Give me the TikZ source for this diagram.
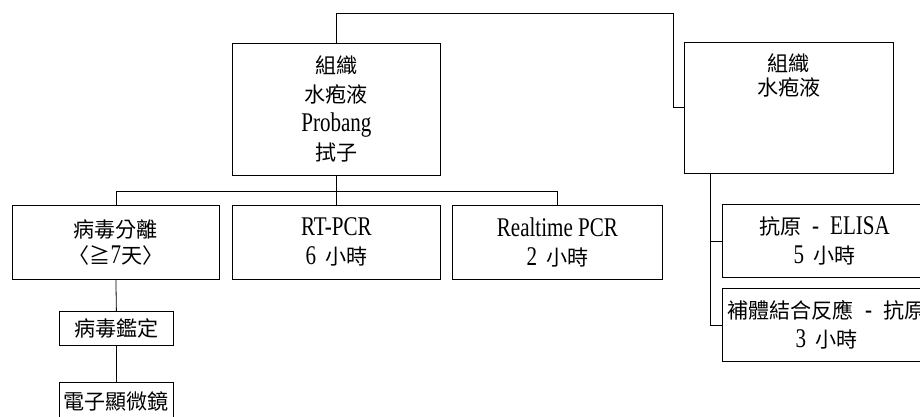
\documentclass[tikz,border=0pt]{standalone}
\usepackage{fontspec}
\setmainfont[FakeStretch=0.78]{Liberation Serif}
\newfontfamily\cjk[Scale=0.78]{Noto Sans CJK TC}
\newcommand\zh[1]{{\cjk #1}}
\newcommand\gap{\hspace{9pt}}
\newcommand\dgap{\hspace{11pt}}
\begin{document}
\begin{tikzpicture}[x=1pt,y=-1pt,
  box/.style={draw, line width=0.8pt, anchor=north west, inner sep=0pt,
    font=\fontsize{27}{29}\selectfont, align=center},
  txt/.style={inner sep=0pt, font=\fontsize{27}{29}\selectfont, align=center},
  link/.style={draw, line width=0.8pt}]
\useasboundingbox (0,0) rectangle (920,417);
\clip (0,0) rectangle (920,417);
% boxes
\node[box, minimum width=208pt, minimum height=132pt] (src) at (232,43)
  {\zh{組織}\\\zh{水疱液}\\Probang\\\zh{拭子}};
\node[box, minimum width=209pt, minimum height=131pt] (srcb) at (684,42) {};
\node[txt, anchor=north] (srcbtxt) at ([yshift=-12pt]srcb.north)
  {\zh{組織}\\[-5pt]\zh{水疱液}};
\node[box, minimum width=207pt, minimum height=74pt] (iso) at (12,205)
  {\zh{病毒分離}\\[-3pt]\zh{〈≧}7\zh{天〉}};
\node[box, minimum width=208pt, minimum height=74pt] (rtpcr) at (232,205)
  {RT-PCR\\6\gap\zh{小時}};
\node[box, minimum width=210pt, minimum height=74pt] (realtime) at (452,205)
  {Realtime PCR\\2\gap\zh{小時}};
\node[box, minimum width=204pt, minimum height=73pt] (elisa) at (722,204)
  {\zh{抗原}\dgap-\dgap ELISA\\5\gap\zh{小時}};
\node[box, minimum width=208pt, minimum height=73pt] (cft) at (722,288)
  {\zh{補體結合反應}\dgap-\dgap\zh{抗原}\\3\gap\zh{小時}};
\node[box, minimum width=114pt, minimum height=34pt] (ident) at (59,311)
  {\zh{病毒鑑定}};
\node[box, minimum width=114pt, minimum height=38pt] (em) at (59,382)
  {\zh{電子顯微鏡}};
% connectors
\coordinate (tr) at (673,13);
\coordinate (bus) at (0,191);
\coordinate (rb) at (710,173);
\draw[link] (src.north) |- (tr) |- (srcb.west);
\draw[link] (src.south) -- (rtpcr.north);
\draw[link] (iso.north) |- (realtime.north |- bus) -- (realtime.north);
\draw[link] (rb) |- (elisa.west);
\draw[link] (rb) |- (cft.west);
\draw[link] (iso.south) -- (ident.north);
\draw[link] (ident.south) -- (em.north);
\end{tikzpicture}
\end{document}
